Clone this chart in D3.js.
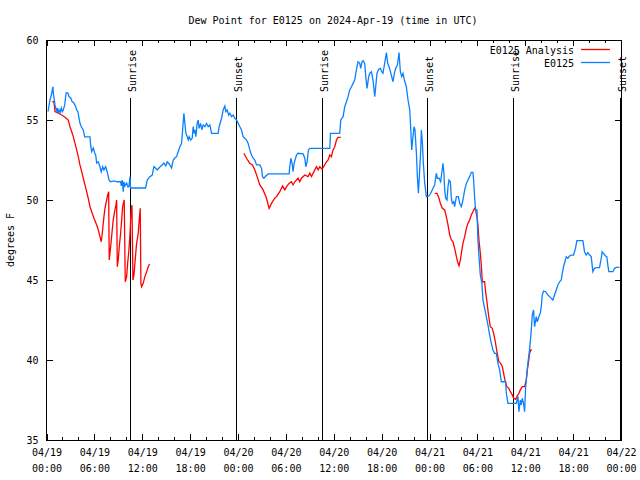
<!DOCTYPE html>
<html>
<head>
<meta charset="utf-8">
<script src="https://cdn.jsdelivr.net/npm/d3@7"></script>
<style>
  html, body { margin: 0; padding: 0; background: #fff; }
  svg { display: block; }
  text { font-family: "DejaVu Sans Mono", "Liberation Mono", monospace; font-size: 10px; fill: #000; }
</style>
</head>
<body>
<svg id="chart" width="640" height="480"></svg>
<script>
// ---------------- DATA ----------------
const titleText = "Dew Point for E0125 on 2024-Apr-19 (time in UTC)";
const yLabelText = "degrees F";
const seriesNames = ["E0125 Analysis", "E0125"];
const seriesColors = ["#ff0000", "#0a80ff"];
const yTicks = [35, 40, 45, 50, 55, 60];
const xTickHours = [0, 6, 12, 18, 24, 30, 36, 42, 48, 54, 60, 66, 72];

// hours since 2024-04-19 00:00 UTC
const sunHours = [10.46, 23.73, 34.55, 47.71, 58.48, 71.82];
const sunLabels = ["Sunrise", "Sunset", "Sunrise", "Sunset", "Sunrise", "Sunset"];

// E0125 observations (blue)
const blueHours = [0.19,0.44,0.60,0.81,0.85,0.94,1.06,1.28,1.35,1.44,1.57,1.69,1.85,1.98,2.10,2.28,2.40,2.48,2.69,2.82,3.03,3.23,3.44,3.66,3.78,3.94,4.07,4.19,4.36,4.61,4.78,5.03,5.45,5.53,5.66,5.86,6.04,6.16,6.29,6.49,6.70,6.86,7.04,7.20,7.41,7.61,7.83,8.04,8.45,8.87,9.29,9.37,9.49,9.62,9.70,9.83,10.04,10.21,10.33,10.46,10.54,12.42,12.62,12.96,13.25,13.46,13.67,13.87,14.21,14.50,14.71,14.96,15.13,15.38,15.68,15.88,16.09,16.30,16.50,16.72,16.93,17.06,17.22,17.34,17.47,17.63,17.76,17.88,18.06,18.26,18.38,18.51,18.60,18.72,18.88,19.01,19.13,19.31,19.47,19.63,19.85,20.06,20.26,20.47,20.69,21.51,21.64,21.81,21.94,22.14,22.35,22.48,22.64,22.82,22.98,23.19,23.39,23.60,23.82,24.02,24.23,24.44,24.64,24.86,25.07,25.27,25.48,25.69,25.90,26.11,26.32,26.73,26.95,27.07,27.24,27.49,27.77,30.40,30.49,30.62,30.78,30.90,31.03,31.33,31.53,32.16,32.37,32.50,32.66,32.83,33.00,35.50,35.59,36.75,36.88,37.17,37.38,37.59,37.79,38.00,38.22,38.42,38.63,38.76,38.92,39.05,39.26,39.38,39.55,39.67,39.88,40.01,40.17,40.38,40.51,40.72,40.92,41.14,41.26,41.42,41.64,41.85,42.01,42.17,42.38,42.60,42.76,42.93,43.10,43.26,43.43,43.60,43.76,43.98,44.18,44.35,44.52,44.68,44.85,45.10,45.31,45.52,45.64,45.77,45.89,46.06,46.18,46.36,46.48,46.61,46.77,46.90,46.98,47.11,47.23,47.40,47.61,47.93,48.15,48.44,48.65,48.86,48.99,49.19,49.40,49.53,49.61,49.69,49.81,49.90,50.03,50.19,50.32,50.44,50.61,50.74,50.86,51.03,51.15,51.37,51.62,51.78,51.99,52.19,52.41,52.62,52.82,53.03,53.24,53.44,53.53,53.66,53.78,53.95,54.07,54.20,54.37,54.57,54.70,54.91,55.12,55.32,55.54,55.75,55.95,56.16,56.37,56.58,56.79,57.00,57.54,57.63,57.83,58.88,59.08,59.21,59.38,59.50,59.63,59.79,59.92,60.04,60.21,60.33,60.54,60.76,60.88,61.04,61.17,61.38,61.51,61.71,61.88,62.01,62.13,62.30,62.55,62.84,63.05,63.46,63.67,63.89,64.09,64.30,64.51,64.64,64.80,64.97,65.14,65.34,65.55,65.76,66.05,66.30,66.47,67.22,67.43,67.64,67.84,68.06,68.27,68.47,68.68,68.89,69.31,69.52,69.64,69.81,70.06,70.22,70.35,70.47,70.98,71.19,71.40,71.81];
const blueValues = [55.52,56.25,56.56,57.08,56.69,56.38,55.94,55.52,55.75,55.44,55.63,55.44,55.75,55.52,55.63,55.94,56.46,56.71,56.69,56.46,56.38,56.14,56.06,55.83,55.63,55.52,55.13,54.81,54.58,54.38,53.94,53.94,53.94,53.44,53.02,53.25,52.94,52.81,52.31,52.39,52.08,51.77,52.08,51.88,52.08,51.77,51.25,51.14,51.19,51.14,51.14,50.88,51.25,50.52,51.14,50.88,51.06,50.81,50.83,51.46,50.75,50.75,51.25,51.46,51.56,52.08,52.00,51.88,52.06,52.19,52.31,52.13,52.39,52.25,52.00,52.50,52.63,52.71,53.02,53.33,53.54,54.38,55.42,54.79,54.17,53.96,53.75,53.96,53.75,53.86,54.58,54.17,54.38,53.96,54.79,55.00,54.48,54.79,54.38,54.69,54.58,54.79,54.58,54.69,54.17,54.17,54.58,54.89,55.11,55.63,55.88,55.52,55.63,55.31,55.42,55.21,55.31,55.11,55.00,54.79,54.58,54.38,53.96,53.86,53.75,53.54,53.13,52.81,52.61,52.50,52.19,52.19,51.98,51.46,51.36,51.50,51.63,51.63,52.08,52.61,52.29,51.77,52.29,52.81,52.92,52.88,52.61,52.08,52.39,53.13,53.23,53.23,54.17,54.17,55.00,55.21,55.83,56.14,56.46,56.88,57.08,57.29,57.50,57.92,58.33,58.64,58.54,58.23,58.64,58.71,58.54,57.71,56.98,57.71,57.92,58.02,57.50,56.46,57.08,57.92,58.17,58.23,58.02,57.92,58.54,59.21,58.54,58.33,58.02,57.71,57.39,57.92,58.23,58.44,59.21,58.02,57.71,57.92,57.50,57.08,56.25,55.63,54.58,53.13,53.75,54.58,54.38,52.92,51.46,50.42,51.88,53.13,54.38,53.54,52.29,51.04,50.21,50.25,50.42,50.73,50.94,51.67,51.36,51.36,51.14,51.67,51.98,52.29,51.67,50.63,50.11,50.00,50.83,51.25,51.14,50.11,49.79,49.89,49.58,50.21,50.21,49.79,49.58,50.00,50.63,51.04,51.25,51.46,51.73,51.73,51.25,50.11,49.38,49.38,47.50,46.46,45.31,44.79,43.75,43.23,42.71,42.19,41.56,41.04,40.63,40.42,40.42,39.79,39.38,38.64,38.64,37.92,37.29,37.29,37.71,36.77,37.50,37.19,37.61,37.29,36.77,38.23,39.17,39.79,40.63,41.88,42.81,43.13,42.08,42.71,42.39,42.71,42.92,43.33,44.06,44.31,44.27,44.06,43.96,43.75,44.06,44.38,44.69,44.89,45.00,45.42,45.83,46.14,46.46,46.36,46.50,46.56,46.56,46.98,47.46,47.46,46.77,46.56,46.71,46.56,46.46,45.52,45.73,45.77,45.77,46.36,46.77,46.67,46.50,46.46,45.94,45.52,45.52,45.73,45.79,45.79];

// E0125 Analysis (red); null marks a gap
const redHours = [0.73,0.94,1.06,1.48,1.90,2.32,2.73,2.94,3.16,3.36,3.57,3.78,3.98,4.19,4.41,4.61,4.82,5.03,5.23,5.45,5.66,5.95,6.29,6.49,6.70,6.86,6.99,7.20,7.33,7.54,7.66,7.79,7.86,8.04,8.20,8.36,8.54,8.70,8.79,8.87,8.99,9.12,9.29,9.42,9.54,9.74,9.87,10.04,10.17,10.33,10.46,10.58,10.71,10.83,10.96,11.08,11.29,11.50,11.62,11.75,11.83,11.92,12.12,12.33,12.55,12.75,12.92,
  18.0,
  24.73,25.07,25.48,25.82,26.11,26.40,26.73,27.15,27.57,27.90,28.20,28.61,28.83,29.24,29.58,29.87,30.08,30.40,30.70,30.90,31.12,31.53,31.74,31.96,32.37,32.78,33.00,33.21,33.62,33.84,34.04,34.25,34.54,34.87,35.09,35.29,35.50,35.71,35.91,36.13,36.34,36.54,36.88,
  42.0,
  48.65,48.94,49.19,49.36,49.61,49.90,50.11,50.32,50.53,50.74,50.94,51.15,51.37,51.57,51.70,51.87,52.03,52.19,52.41,52.62,52.82,53.03,53.24,53.44,53.66,53.78,53.95,54.07,54.20,54.37,54.49,54.62,54.91,55.03,55.20,55.37,55.62,55.87,56.04,56.25,56.45,56.70,56.91,57.13,57.29,57.50,57.70,57.95,58.13,58.38,58.55,58.80,58.96,59.21,59.38,59.63,59.92,60.13,60.26,60.42,60.54,60.71,60.83];
const redValues = [56.14,56.14,55.52,55.42,55.31,55.17,55.00,54.58,54.27,53.96,53.54,53.13,52.71,52.19,51.77,51.36,50.94,50.52,50.11,49.58,49.27,48.86,48.44,48.13,47.71,47.39,47.92,48.96,49.48,50.00,50.31,50.52,46.25,47.08,47.92,48.75,49.27,49.69,50.00,45.83,46.25,47.08,47.92,48.75,49.58,50.00,44.89,45.21,46.04,46.88,47.81,49.17,49.69,45.00,45.31,46.04,47.29,47.92,48.75,49.48,44.79,44.58,44.79,45.21,45.52,45.83,46.00,
  null,
  52.92,52.61,52.29,52.19,51.88,51.46,50.94,50.63,50.11,49.48,49.79,50.11,50.21,50.52,50.88,50.63,50.83,51.04,51.14,50.94,51.14,51.36,51.14,51.36,51.56,51.46,51.67,51.46,51.88,52.08,51.88,52.08,51.92,52.19,52.39,52.50,52.81,52.71,53.13,53.33,53.75,53.92,53.92,
  null,
  50.42,50.42,50.11,49.79,49.48,49.38,48.96,48.44,47.81,47.50,47.39,46.98,46.46,46.04,45.88,46.25,46.77,47.29,47.71,48.23,48.54,48.75,49.06,49.27,49.48,49.38,48.96,48.44,47.50,46.67,45.94,44.89,44.89,44.27,43.64,42.92,42.08,41.98,41.67,41.14,40.52,39.89,39.79,39.58,39.17,38.64,38.33,38.23,38.02,37.81,37.61,37.54,37.71,37.92,38.13,38.33,38.33,38.75,39.38,39.89,40.42,40.63,40.63];

// ---------------- CHART ----------------
const svg = d3.select("#chart");
const W = 640, H = 480;
const m = { left: 46.5, right: 621, top: 40, bottom: 440 };
const t0 = Date.UTC(2024, 3, 19, 0, 0);
const toDate = h => new Date(t0 + h * 3600 * 1000);

const x = d3.scaleUtc().domain([toDate(0), toDate(72)]).range([m.left, m.right]);
const y = d3.scaleLinear().domain([35, 60]).range([m.bottom, m.top]);

svg.append("rect").attr("width", W).attr("height", H).attr("fill", "#fff");

// Title
svg.append("text").attr("x", 333).attr("y", 23.5).attr("text-anchor", "middle").text(titleText);

// Y axis label
svg.append("text")
  .attr("transform", "translate(13.5,240) rotate(-90)")
  .attr("text-anchor", "middle")
  .text(yLabelText);

const majorTicks = xTickHours.map(toDate);
const minorTicks = d3.range(0, 73, 2).filter(h => h % 6 !== 0).map(toDate);
const fmtDate = d3.utcFormat("%m/%d");
const fmtTime = d3.utcFormat("%H:%M");

function styleAxis(g) {
  g.select(".domain").remove();
  g.selectAll("line").attr("stroke", "#000").attr("shape-rendering", "crispEdges");
  g.selectAll("text").attr("font-family", "DejaVu Sans Mono").attr("font-size", 10);
}

// bottom axis, major ticks + labels
const gB = svg.append("g").attr("transform", `translate(0,${m.bottom})`)
  .call(d3.axisBottom(x).tickValues(majorTicks).tickSize(-6).tickPadding(9).tickFormat(""))
  .call(styleAxis);
gB.selectAll(".tick text").each(function(d) {
  const t = d3.select(this);
  t.append("tspan").attr("x", 0).attr("dy", "0.71em").text(fmtDate(d));
  t.append("tspan").attr("x", 0).attr("dy", "16").text(fmtTime(d));
});
svg.append("g").attr("transform", `translate(0,${m.bottom})`)
  .call(d3.axisBottom(x).tickValues(minorTicks).tickSize(-3).tickFormat(""))
  .call(styleAxis);
// top mirror
svg.append("g").attr("transform", `translate(0,${m.top})`)
  .call(d3.axisTop(x).tickValues(majorTicks).tickSize(-6).tickFormat(""))
  .call(styleAxis);
svg.append("g").attr("transform", `translate(0,${m.top})`)
  .call(d3.axisTop(x).tickValues(minorTicks).tickSize(-3).tickFormat(""))
  .call(styleAxis);

// left / right y axes
svg.append("g").attr("transform", `translate(${m.left},0)`)
  .call(d3.axisLeft(y).tickValues(yTicks).tickSize(-6).tickPadding(8).tickFormat(d3.format("d")))
  .call(styleAxis);
svg.append("g").attr("transform", `translate(${m.right},0)`)
  .call(d3.axisRight(y).tickValues(yTicks).tickSize(-6).tickFormat(""))
  .call(styleAxis);

// Sunrise / sunset markers
const sun = svg.append("g");
sunHours.forEach((h, i) => {
  const sx = Math.round(x(toDate(h))) + 0.5;
  sun.append("line").attr("x1", sx).attr("x2", sx).attr("y1", 98).attr("y2", m.bottom)
    .attr("stroke", "#000").attr("stroke-width", 1).attr("shape-rendering", "crispEdges");
  sun.append("text").attr("transform", `translate(${sx + 5},92) rotate(-90)`)
    .attr("text-anchor", "start").text(sunLabels[i]);
});

// data lines
const blueData = blueHours.map((h, i) => ({ d: toDate(h), v: blueValues[i] }));
const redData = redHours.map((h, i) => ({ d: toDate(h), v: redValues[i] }));
const line = d3.line().defined(p => p.v !== null).x(p => x(p.d)).y(p => y(p.v));

svg.append("path").datum(redData).attr("fill", "none")
  .attr("stroke", seriesColors[0]).attr("stroke-width", 1.3).attr("d", line);
svg.append("path").datum(blueData).attr("fill", "none")
  .attr("stroke", seriesColors[1]).attr("stroke-width", 1.3).attr("d", line);

// frame
svg.append("rect").attr("x", m.left).attr("y", m.top)
  .attr("width", m.right - m.left).attr("height", m.bottom - m.top)
  .attr("fill", "none").attr("stroke", "#000").attr("shape-rendering", "crispEdges");

// Legend
const leg = svg.append("g");
seriesNames.forEach((name, i) => {
  const ly = 50 + i * 13;
  leg.append("text").attr("x", 574).attr("y", ly + 3.5).attr("text-anchor", "end").text(name);
  leg.append("line").attr("x1", 581).attr("x2", 610).attr("y1", ly - 0.5).attr("y2", ly - 0.5)
    .attr("stroke", seriesColors[i]).attr("stroke-width", 1.3);
});
</script>
</body>
</html>
